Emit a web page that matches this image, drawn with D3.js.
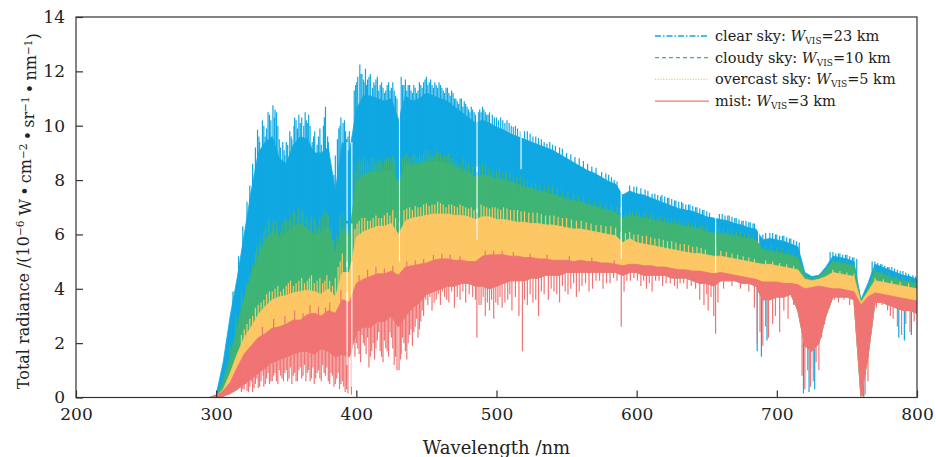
<!DOCTYPE html>
<html>
<head>
<meta charset="utf-8">
<script src="https://cdn.jsdelivr.net/npm/d3@7"></script>
<style>
  body { margin: 0; background: #fff; }
  svg text { font-family: "DejaVu Serif", "Liberation Serif", serif; fill: #222; }
</style>
</head>
<body>
<svg id="chart" width="936" height="457"></svg>
<script>
// wavelength grid (nm): flat start at 200, then every 5 nm from 295 to 800
const WAVELENGTHS = [200].concat(d3.range(295, 801, 5));
const X_TICKS = [200, 300, 400, 500, 600, 700, 800];
const Y_TICKS = [0, 2, 4, 6, 8, 10, 12, 14];

// solid body of each spectrum, upper edge (10^-6 W cm^-2 sr^-1 nm^-1)
const CLEAR_HI = [0, 0,
  0.1, 1.3, 3.0, 4.4, 6.0, 7.6, 9.0, 9.4, 9.6, 8.8,
  8.6, 9.3, 9.6, 9.5, 9.0, 9.0, 9.2, 7.6, 9.4, 9.0,
  10.6, 11.1, 11.1, 11.0, 10.9, 11.0, 10.2, 11.1, 10.9, 11.0,
  11.2, 11.1, 11.0, 10.9, 10.7, 10.5, 10.3, 10.1, 10.2, 10.1,
  9.95, 9.85, 9.7, 9.6, 9.5, 9.4, 9.3, 9.2, 9.1, 8.95,
  8.8, 8.65, 8.5, 8.35, 8.25, 8.1, 7.95, 7.85, 7.45, 7.6,
  7.5, 7.45, 7.35, 7.25, 7.15, 7.05, 6.95, 6.9, 6.85, 6.75,
  6.65, 6.6, 6.55, 6.5, 6.4, 6.35, 6.25, 6.2, 5.8, 5.85,
  5.8, 5.75, 5.65, 5.55, 4.6, 4.45, 4.5, 4.8, 5.2, 5.15,
  5.1, 5.0, 3.6, 4.2, 4.9, 4.8, 4.7, 4.6, 4.5, 4.45,
  4.35];

const CLOUDY_HI = [0, 0,
  0.05, 0.6, 1.5, 2.6, 3.7, 4.5, 5.2, 5.8, 6.1, 5.9,
  6.1, 6.3, 6.4, 6.2, 6.0, 6.1, 6.3, 5.3, 6.2, 6.0,
  7.9, 8.2, 8.3, 8.3, 8.3, 8.4, 7.9, 8.5, 8.55, 8.6,
  8.7, 8.7, 8.65, 8.6, 8.5, 8.4, 8.3, 8.1, 8.2, 8.15,
  8.05, 8.0, 7.95, 7.85, 7.75, 7.7, 7.6, 7.55, 7.5, 7.4,
  7.3, 7.25, 7.2, 7.1, 7.05, 6.95, 6.9, 6.8, 6.6, 6.7,
  6.65, 6.6, 6.55, 6.5, 6.45, 6.4, 6.35, 6.3, 6.25, 6.2,
  6.1, 6.05, 6.05, 6.0, 5.95, 5.9, 5.85, 5.8, 5.45, 5.4,
  5.35, 5.3, 5.25, 5.15, 4.5, 4.35, 4.45, 4.7, 5.0, 4.95,
  4.9, 4.85, 3.55, 4.0, 4.65, 4.55, 4.45, 4.35, 4.3, 4.25,
  4.2];

const OVERCAST_HI = [0, 0,
  0.05, 0.3, 0.9, 1.6, 2.2, 2.6, 3.05, 3.35, 3.6, 3.7,
  3.75, 3.85, 3.9, 3.95, 3.9, 3.8, 4.0, 3.7, 4.6, 4.6,
  5.9, 6.1, 6.2, 6.3, 6.3, 6.4, 6.0, 6.5, 6.6, 6.65,
  6.7, 6.75, 6.75, 6.75, 6.7, 6.7, 6.65, 6.55, 6.65, 6.65,
  6.55, 6.55, 6.5, 6.45, 6.45, 6.4, 6.4, 6.35, 6.35, 6.3,
  6.25, 6.2, 6.2, 6.15, 6.1, 6.05, 6.0, 5.95, 5.7, 5.85,
  5.7, 5.65, 5.6, 5.55, 5.5, 5.45, 5.4, 5.35, 5.3, 5.3,
  5.25, 5.2, 5.2, 5.15, 5.1, 5.05, 5.0, 4.95, 4.9, 4.9,
  4.85, 4.8, 4.75, 4.7, 4.35, 4.3, 4.35, 4.45, 4.6, 4.55,
  4.5, 4.45, 3.5, 3.9, 4.3, 4.25, 4.2, 4.15, 4.1, 4.05,
  4.0];

const MIST_HI = [0, 0,
  0.05, 0.25, 0.55, 1.1, 1.6, 1.9, 2.2, 2.35, 2.55, 2.6,
  2.7, 2.85, 2.85, 3.05, 3.1, 3.0, 3.2, 3.1, 3.6, 3.5,
  4.2, 4.35, 4.45, 4.55, 4.55, 4.65, 4.5, 4.8, 4.85, 4.9,
  4.95, 5.05, 5.1, 5.1, 5.05, 5.05, 5.0, 5.0, 5.2, 5.25,
  5.25, 5.25, 5.2, 5.2, 5.15, 5.15, 5.1, 5.1, 5.05, 5.05,
  5.05, 5.0, 5.05, 5.0, 5.0, 4.95, 4.95, 4.9, 4.85, 4.9,
  4.9, 4.85, 4.85, 4.8, 4.8, 4.75, 4.7, 4.7, 4.65, 4.65,
  4.6, 4.55, 4.6, 4.55, 4.5, 4.45, 4.4, 4.35, 4.25, 4.25,
  4.25, 4.2, 4.2, 4.15, 4.0, 4.05, 4.1, 4.05, 4.0, 4.0,
  3.95, 3.9, 3.4, 3.7, 3.85, 3.8, 3.75, 3.7, 3.65, 3.6,
  3.55];

// solid body, lower edge (shared by all four spectra)
const BODY_LO = [0, 0,
  0, 0.05, 0.15, 0.3, 0.5, 0.7, 0.9, 1.1, 1.3, 1.4,
  1.5, 1.6, 1.7, 1.7, 1.6, 1.8, 1.7, 1.5, 1.6, 1.5,
  2.4, 2.6, 2.6, 2.8, 2.8, 3.0, 2.6, 3.0, 3.3, 3.5,
  3.8, 3.9, 4.0, 4.1, 4.1, 4.2, 4.2, 4.1, 4.1, 4.0,
  4.1, 4.2, 4.3, 4.3, 4.3, 4.4, 4.4, 4.5, 4.5, 4.5,
  4.6, 4.6, 4.6, 4.6, 4.6, 4.6, 4.6, 4.6, 4.5, 4.6,
  4.6, 4.5, 4.5, 4.5, 4.5, 4.4, 4.4, 4.4, 4.3, 4.2,
  4.2, 4.1, 4.3, 4.3, 4.3, 4.2, 4.2, 4.1, 3.6, 3.6,
  3.7, 3.7, 3.8, 3.2, 1.9, 1.7, 2.0, 3.0, 3.7, 3.7,
  3.7, 3.6, 0.05, 1.5, 3.5, 3.5, 3.4, 3.3, 3.2, 3.2,
  3.1];

// narrow peaks / dips sticking out of the body: [nm, value]
const CLEAR_SPIKES = [
  [312, 3.9], [316, 5.2], [319, 6.3], [322, 7.2], [324, 7.8], [326, 8.6], [328, 9.2],
  [329.5, 9.85], [330.5, 9.6], [331, 9.4], [333, 10.2], [334, 10.0], [335, 9.6], [336, 9.9],
  [337, 10.5], [338, 10.4], [339, 10.2], [340.5, 10.75], [341.5, 10.3], [342, 10.6],
  [343, 10.5], [344, 10.0], [345, 9.5], [346, 9.2], [347.5, 9.4], [348.5, 9.1], [349, 8.9],
  [350, 9.4], [351, 9.3], [352.5, 9.8], [353.5, 9.6], [354, 9.5], [355.5, 10.0], [356, 10.3],
  [357, 10.2], [358, 9.9], [359, 10.4], [360, 10.1], [361, 10.3], [362.5, 10.0], [363.5, 10.5],
  [364.3, 10.2], [365, 10.1], [366, 10.4], [367, 10.0], [368.5, 9.4], [369.5, 9.6],
  [370.3, 9.8], [371, 9.0], [372, 9.3], [373, 9.6], [374, 9.9], [375, 9.3], [376.5, 10.0],
  [377.2, 10.3], [378, 10.7], [379.5, 9.6], [380, 9.4], [381, 8.0], [382, 8.4], [383, 7.6],
  [384, 8.2], [385, 8.9], [386.5, 9.5], [387.5, 9.9], [388.3, 10.0], [389, 10.3],
  [390.5, 10.1], [391.5, 10.2], [392.3, 9.8], [393, 9.5], [394, 9.6], [395, 9.8],
  [398.5, 11.3], [399.5, 11.5], [400.3, 11.6], [401, 11.8], [402.5, 12.25], [403.3, 11.9],
  [404, 11.9], [405, 11.7], [405.5, 11.6], [406.5, 12.1], [407.3, 11.5], [408, 11.7],
  [409, 11.8], [410, 11.9], [411.5, 11.4], [412.5, 11.6], [413.3, 11.5], [414, 11.7],
  [415, 11.8], [416, 11.3], [417, 11.5], [418, 11.6], [419, 11.4], [420, 11.2], [421, 11.3],
  [422, 11.5], [423, 11.6], [424, 11.3], [425, 11.4], [426, 11.6], [427, 11.3], [428, 11.1],
  [429, 11.0], [432, 11.8], [433, 11.5], [434, 11.5], [435, 11.7], [436, 11.3], [437, 11.5],
  [438, 11.5], [439, 11.3], [440, 11.2], [441, 11.5], [442, 11.4], [443, 11.2], [444, 11.3],
  [445, 11.6], [446, 11.5], [447, 11.4], [448, 11.6], [449, 11.7], [450, 11.8], [451, 11.5],
  [452, 11.6], [453, 11.7], [454, 11.5], [455, 11.4], [456, 11.6], [457, 11.5], [458, 11.4],
  [459, 11.6], [460, 11.5], [461, 11.4], [462, 11.3], [463, 11.2], [464, 11.4], [465, 11.4],
  [466, 11.2], [467, 11.1], [468, 11.3], [469, 11.2], [470, 11.0], [471, 11.0], [472, 10.9],
  [473, 10.8], [474, 11.0], [475, 11.0], [476, 10.7], [477, 10.9], [478, 10.8], [479, 10.7],
  [480, 10.6], [481, 10.5], [482, 10.7], [483, 10.6], [484, 10.5], [485, 10.4], [487, 10.5],
  [488, 10.6], [489, 10.5], [490, 10.7], [491, 10.6], [492, 10.5], [493, 10.4], [494, 10.4],
  [495, 10.5], [497, 10.4], [498.5, 10.3], [500, 10.3], [501.5, 10.2], [503, 10.3],
  [504.5, 10.2], [506, 10.1], [507.5, 10.2], [509, 10.1], [510.5, 10.0], [512, 9.95],
  [513.5, 10.0], [515, 9.9], [517, 9.8], [520, 9.8], [522, 9.8], [524, 9.7], [526, 9.6],
  [528, 9.6], [530, 9.55], [532, 9.5], [534, 9.4], [536, 9.35], [538, 9.4], [540, 9.3],
  [542, 9.25], [545, 9.2], [547, 9.15], [550, 9.0], [553, 8.95], [556, 8.85], [559, 8.8],
  [562, 8.7], [565, 8.6], [568, 8.5], [571, 8.45], [575, 8.3], [578, 8.25], [580, 8.2],
  [582, 8.1], [584, 8.0], [586, 7.95], [595, 7.8], [598, 7.75], [600, 7.75], [603, 7.7],
  [606, 7.65], [608, 7.6], [611, 7.5], [613, 7.5], [615, 7.45], [617, 7.4], [618, 7.45],
  [620, 7.4], [622, 7.35], [623, 7.35], [625, 7.3], [627, 7.25], [628, 7.25], [630, 7.2],
  [632, 7.2], [633, 7.15], [635, 7.1], [637, 7.1], [638, 7.1], [640, 7.05], [642, 7.0],
  [643, 7.0], [645, 6.95], [647, 6.9], [648, 6.9], [650, 6.85], [652, 6.8], [659, 6.75],
  [661, 6.75], [663, 6.7], [665, 6.7], [666, 6.7], [668, 6.65], [670, 6.6], [671, 6.6],
  [673, 6.55], [675, 6.5], [676, 6.5], [678, 6.5], [680, 6.45], [681, 6.45], [683, 6.4],
  [684, 6.4], [690, 6.0], [692, 6.05], [695, 6.05], [697, 6.05], [699, 6.0], [700, 6.0],
  [702, 5.95], [704, 5.95], [705, 5.95], [707, 5.9], [709, 5.85], [710, 5.85], [712, 5.8],
  [714, 5.75], [716, 5.7], [738, 5.35], [740, 5.35], [742, 5.3], [744, 5.3], [745, 5.3],
  [747, 5.25], [749, 5.25], [750, 5.25], [752, 5.2], [754, 5.15], [755, 5.15], [757, 5.1],
  [768, 5.0], [770, 5.0], [772, 4.95], [774, 4.9], [775, 4.9], [777, 4.85], [779, 4.8],
  [780, 4.8], [782, 4.8], [784, 4.75], [786, 4.7], [788, 4.65], [790, 4.65], [792, 4.6],
  [794, 4.55], [797, 4.5], [799, 4.45],
  [686, 1.7], [689, 1.5], [693, 2.1], [719, 0.15], [723, 0.2], [727, 0.3], [762, 0.02],
  [787, 2.2], [791, 2.1], [796, 2.3],
];

const CLOUDY_SPIKES = [
  [310, 1.9], [314, 3.0], [318, 3.9], [322, 4.2], [324, 4.6], [326, 4.9], [328, 5.3],
  [329, 5.6], [331, 5.7], [332, 5.9], [334, 6.1], [335, 6.3], [337, 6.5], [338, 6.6],
  [340, 6.4], [341, 6.5], [343, 6.5], [344, 6.2], [346, 6.1], [347, 6.4], [349, 6.6],
  [350, 6.5], [352, 6.5], [353, 6.7], [355, 6.9], [356, 6.8], [358, 6.7], [359, 7.0],
  [361, 6.9], [362, 6.8], [364, 6.7], [365, 6.6], [367, 6.5], [368, 6.7], [370, 6.6],
  [371, 6.4], [373, 6.3], [374, 6.6], [376, 6.7], [377, 6.9], [379, 6.8], [380, 6.7],
  [382, 6.2], [384, 5.8], [386, 6.0], [388, 6.6], [389, 6.7], [391, 6.8], [392, 6.5],
  [399, 8.3], [400.5, 8.6], [402, 8.8], [403.5, 8.7], [405, 8.9], [406.5, 8.8], [408, 8.7],
  [409.5, 8.6], [411, 8.8], [412.5, 8.8], [414, 8.6], [415.5, 8.7], [417, 8.8], [418.5, 8.6],
  [420, 8.7], [421.5, 8.8], [423, 8.8], [424.5, 8.7], [426, 8.9], [427.5, 8.7], [433, 8.8],
  [434.5, 8.9], [436, 9.0], [437.5, 8.8], [439, 8.8], [440.5, 9.0], [442, 8.9], [443.5, 8.8],
  [445, 9.0], [446.5, 8.9], [448, 9.0], [449.5, 9.1], [451, 9.1], [452.5, 9.0], [454, 8.9],
  [455.5, 8.9], [457, 9.1], [458.5, 9.0], [460, 9.0], [461.5, 8.8], [463, 8.9], [464.5, 8.9],
  [466, 9.0], [467.5, 8.8], [469, 8.8], [470.5, 8.7], [472, 8.7], [474, 8.6], [476, 8.8],
  [478, 8.65], [480, 8.6], [483, 8.5], [488, 8.5], [490, 8.6], [492, 8.55], [494, 8.5],
  [496, 8.4], [498, 8.4], [500, 8.35], [502, 8.4], [504.5, 8.3], [507, 8.3], [509.5, 8.25],
  [512, 8.2], [514.5, 8.1], [517, 8.15], [519.5, 8.05], [522, 8.0], [525, 7.95], [528, 7.9],
  [531, 7.85], [534, 7.8], [537, 7.8], [540, 7.75], [543.5, 7.7], [547, 7.6], [551, 7.55],
  [555, 7.5], [558.5, 7.45], [562, 7.4], [566, 7.35], [570, 7.25], [574, 7.2], [578, 7.15],
  [582, 7.1], [586, 7.05], [592, 6.85], [595, 6.9], [597, 6.85], [600, 6.85], [602, 6.8],
  [605, 6.8], [607, 6.75], [610, 6.75], [612, 6.7], [615, 6.7], [617, 6.65], [620, 6.6],
  [622, 6.6], [625, 6.55], [627, 6.55], [630, 6.5], [632, 6.5], [635, 6.45], [637, 6.45],
  [640, 6.4], [642, 6.4], [645, 6.35], [647, 6.3], [650, 6.3], [659, 6.25], [662, 6.2],
  [665, 6.2], [668, 6.15], [671, 6.1], [674, 6.1], [677, 6.05], [680, 6.0], [683, 6.0],
  [692, 5.6], [696, 5.6], [700, 5.55], [704, 5.5], [708, 5.45], [712, 5.4], [740, 5.1],
  [745, 5.1], [750, 5.05], [755, 5.0], [770, 4.8], [775, 4.7], [780, 4.6], [785, 4.5],
  [790, 4.45], [795, 4.4],
];

const OVERCAST_SPIKES = [
  [318, 2.3], [320, 2.5], [322, 2.7], [324, 2.9], [326, 3.0], [328, 3.3], [330, 3.4],
  [332, 3.5], [334, 3.6], [336, 3.8], [338, 3.9], [340, 3.9], [342, 4.0], [344, 4.1],
  [346, 3.9], [348, 4.0], [350, 4.1], [351.5, 4.2], [353, 4.3], [355, 4.1], [357, 4.2],
  [359, 4.3], [361, 4.4], [363, 4.2], [365, 4.3], [366.5, 4.4], [368, 4.5], [370, 4.2],
  [372, 4.3], [374, 4.4], [376, 4.2], [377.5, 4.3], [379, 4.5], [381, 4.3], [383, 4.1],
  [385, 4.4], [387, 4.8], [388.5, 5.0], [390, 5.3], [399, 6.2], [400.5, 6.4], [402, 6.5],
  [404, 6.6], [406, 6.6], [408, 6.5], [410, 6.5], [412, 6.6], [414, 6.7], [416, 6.6],
  [418, 6.6], [420, 6.7], [422, 6.8], [424, 6.7], [426, 6.9], [428, 6.6], [434, 6.9],
  [436, 6.95], [438, 7.0], [440, 6.9], [442, 7.05], [444, 7.0], [446, 7.0], [448, 7.1],
  [450, 7.15], [452, 7.05], [454, 7.1], [456, 7.1], [458, 7.2], [460, 7.15], [462, 7.1],
  [464, 7.0], [466, 7.1], [468, 7.1], [470, 7.05], [472, 7.0], [474, 7.1], [476, 7.05],
  [478, 7.0], [480, 6.95], [482, 7.0], [484, 6.9], [489, 7.1], [491, 7.05], [493, 7.0],
  [495, 6.95], [497, 7.0], [499, 7.0], [501, 6.95], [503, 6.9], [505, 7.0], [507.5, 6.95],
  [510, 6.9], [512.5, 6.9], [515, 6.9], [517.5, 6.85], [520, 6.85], [523, 6.8], [526, 6.8],
  [529, 6.8], [532, 6.75], [535, 6.7], [538, 6.7], [541, 6.7], [544, 6.65], [547, 6.6],
  [550, 6.6], [553.5, 6.55], [557, 6.5], [560.5, 6.5], [564, 6.45], [567.5, 6.4],
  [571, 6.35], [574.5, 6.35], [578, 6.3], [581.5, 6.3], [585, 6.25], [592, 6.05],
  [595, 6.1], [598, 6.0], [601, 6.0], [604, 5.95], [607, 5.95], [610, 5.9], [613, 5.85],
  [616, 5.85], [619, 5.8], [622, 5.75], [625, 5.75], [628, 5.7], [631, 5.65], [634, 5.65],
  [637, 5.6], [640, 5.55], [643, 5.55], [646, 5.5], [649, 5.45], [660, 5.4], [664, 5.35],
  [668, 5.3], [672, 5.25], [676, 5.2], [680, 5.15], [684, 5.1], [692, 5.05], [697, 5.0],
  [702, 4.95], [707, 4.9], [712, 4.85], [740, 4.7], [745, 4.65], [750, 4.6], [755, 4.55],
  [770, 4.4], [776, 4.35], [782, 4.3], [788, 4.25], [794, 4.2],
];

const MIST_SPIKES = [
  [318, 0.2], [319, 0.3], [320, 0.3], [321, 0.5], [322, 0.25], [323, 0.2], [324, 0.4],
  [325, 0.6], [326, 0.2], [327, 0.35], [328, 0.5], [329, 0.7], [330, 0.35], [331, 0.4],
  [332, 0.6], [333.5, 0.8], [334, 0.4], [335, 0.5], [336, 0.7], [337, 0.9], [338, 0.5],
  [339, 0.6], [340, 0.6], [341, 0.8], [342, 0.9], [343, 0.6], [344, 0.5], [345, 1.0],
  [346, 0.8], [347, 0.7], [348, 0.6], [349, 0.9], [350, 1.0], [351, 0.6], [352, 0.7],
  [353, 1.1], [354, 0.5], [355, 0.8], [356, 0.9], [357, 0.6], [358, 0.6], [359, 1.0],
  [360, 1.1], [361, 0.7], [362, 0.8], [363, 1.2], [364, 0.6], [365, 0.9], [366, 1.0],
  [367, 0.6], [368, 0.7], [369, 1.1], [370, 0.5], [371, 0.7], [372, 0.9], [373, 1.0],
  [374, 0.7], [375, 0.6], [376, 1.2], [377, 0.9], [378, 0.8], [379, 1.1], [380, 0.6],
  [381, 0.5], [382, 0.9], [383, 0.8], [384, 0.4], [385, 0.5], [386, 0.7], [387, 0.9],
  [388, 0.3], [389, 0.5], [390, 0.6], [391, 0.4], [392, 0.2], [393, 0.3], [394, 0.15],
  [396.5, 0.1], [399, 1.5], [400, 2.0], [401, 1.8], [402, 1.6], [403, 1.3], [404, 2.3],
  [405, 2.0], [406, 1.9], [407, 1.6], [408, 2.2], [409, 1.1], [410, 1.5], [411, 1.7],
  [412, 2.0], [413, 1.4], [414, 1.8], [415, 2.1], [416, 2.4], [417, 1.7], [418, 1.5],
  [419, 1.3], [420, 2.1], [421, 1.8], [422, 1.7], [423, 1.5], [424, 2.4], [425, 2.2],
  [426, 1.8], [427, 1.2], [428, 1.5], [429, 1.0], [430.5, 1.0], [431.5, 1.4], [432, 1.6],
  [433, 2.2], [434, 2.0], [435, 1.7], [436, 1.4], [437, 2.0], [438, 2.3], [439, 2.5],
  [440, 1.9], [441, 2.4], [442, 2.6], [443, 2.9], [444, 2.2], [445, 2.5], [446, 2.8],
  [447, 3.2], [448, 3.0], [449.5, 3.6], [451, 3.4], [452.5, 3.7], [454, 3.2], [455.5, 3.5],
  [457, 3.6], [458.5, 3.8], [460, 3.4], [461.5, 3.9], [463, 3.7], [464.5, 3.6], [466, 3.5],
  [468, 3.9], [470, 3.3], [472, 3.7], [474, 3.6], [476, 3.9], [478, 3.5], [480.5, 3.8],
  [483, 3.7], [485, 3.6], [486, 2.2], [487.5, 3.4], [489, 3.4], [490.5, 3.7], [492, 3.0],
  [493.5, 3.5], [495, 3.2], [496.5, 3.6], [498, 2.9], [499.5, 3.5], [501, 3.4], [502.5, 3.7],
  [504, 3.3], [506, 3.5], [508, 3.6], [509.5, 3.8], [511, 3.2], [513.5, 3.7], [516, 3.0],
  [518.5, 1.7], [520, 3.6], [522, 3.4], [524, 3.8], [526, 3.5], [528, 3.6], [530, 3.0],
  [532, 3.9], [534, 3.8], [537, 3.6], [539, 4.0], [541, 3.9], [543, 3.8], [545, 3.5],
  [547, 4.1], [549, 3.9], [551, 3.8], [553, 4.0], [555, 4.2], [557, 3.7], [559, 3.9],
  [561, 4.1], [563.5, 4.2], [566, 3.9], [568.5, 4.0], [571, 4.3], [573.5, 4.3], [576, 4.0],
  [578.5, 4.2], [581, 4.2], [583.5, 4.4], [586, 4.3], [589, 2.6], [591, 3.9], [593, 4.3],
  [595.5, 4.3], [598, 4.4], [600.5, 4.3], [603, 4.1], [605, 4.3], [607, 4.0], [609, 4.2],
  [611, 3.9], [613.5, 4.3], [616, 4.3], [618.5, 4.1], [621, 4.2], [624, 4.2], [627, 4.1],
  [629, 4.0], [631, 4.2], [633.5, 4.2], [636, 4.0], [639, 4.1], [642, 4.0], [645, 3.6],
  [648, 3.4], [650, 3.8], [651, 3.2], [653, 3.7], [655, 3.0], [656.3, 2.35], [658, 3.5],
  [662, 4.0], [668, 4.1], [674, 4.0], [680, 3.9], [684, 3.3], [686, 2.0], [688, 2.4],
  [690, 1.9], [692, 2.6], [694, 2.2], [697, 2.7], [699, 3.0], [702, 2.4], [705, 3.2],
  [708, 2.9], [712, 3.4], [716, 3.1], [718, 0.8], [720, 0.3], [722, 1.0], [724, 0.4],
  [726, 0.6], [728, 1.3], [730, 1.0], [732, 2.2], [734, 2.7], [737, 3.3], [741, 3.6],
  [744, 3.5], [748, 3.6], [752, 3.4], [756, 3.3], [761, 0.05], [763, 0.1], [765, 0.6],
  [771, 3.3], [775, 3.4], [779, 3.2], [781, 3.0], [783, 2.9], [786, 2.6], [789, 2.3],
  [792, 2.7], [795, 2.4], [798, 2.8],
  [333, 2.6], [341, 2.9], [349, 3.0], [356, 3.2], [362, 3.1], [367, 3.4], [373, 3.35],
  [378, 3.3], [381, 3.5], [389, 3.95], [402, 4.5], [408, 4.7], [414, 4.8], [420, 4.75],
  [426, 4.85], [436, 5.0], [442, 5.05], [448, 5.1], [455, 5.25], [461, 5.3], [467, 5.25],
  [474, 5.2], [492, 5.4], [498, 5.4], [504, 5.4], [512, 5.35], [524, 5.3], [536, 5.25],
  [552, 5.2], [568, 5.15], [584, 5.05],
];

// strong absorption lines cutting down from the top of each body: [nm, depth]
const CLEAR_NOTCHES = [[393.4, 6.5], [396.8, 5.0], [430.8, 7.8], [486.1, 8.3], [517.5, 8.4], [589, 6.8], [656.3, 5.5], [687, 5.4]];
const CLOUDY_NOTCHES = [[393.4, 4.8], [396.8, 4.5], [430.8, 6.0], [486.1, 6.8], [589, 5.8], [656.3, 5.2]];
const OVERCAST_NOTCHES = [[393.4, 3.6], [396.8, 3.4], [430.8, 5.0], [486.1, 5.8], [589, 5.1], [656.3, 4.6]];
const MIST_NOTCHES = [[393.4, 1.2], [396.8, 0.4]];

// series, drawn back to front
const SERIES = [
  { name: "clear sky: ", vis: "=23 km", hi: CLEAR_HI, spikes: CLEAR_SPIKES, notches: CLEAR_NOTCHES, color: "#10a8e2", dash: "6,2,1.5,2" },
  { name: "cloudy sky: ", vis: "=10 km", hi: CLOUDY_HI, spikes: CLOUDY_SPIKES, notches: CLOUDY_NOTCHES, color: "#3fb475", dash: "4,3" },
  { name: "overcast sky: ", vis: "=5 km", hi: OVERCAST_HI, spikes: OVERCAST_SPIKES, notches: OVERCAST_NOTCHES, color: "#fcc764", dash: "1.2,1.5" },
  { name: "mist: ", vis: "=3 km", hi: MIST_HI, spikes: MIST_SPIKES, notches: MIST_NOTCHES, color: "#f07474", dash: null },
];

const config = {
  margin: { top: 17, right: 19, bottom: 59.5, left: 76 },
};
config.width = 936 - config.margin.left - config.margin.right;
config.height = 457 - config.margin.top - config.margin.bottom;

const svg = d3
  .select("#chart")
  .append("g")
  .attr("transform", `translate(${config.margin.left}, ${config.margin.top})`);

const xScale = d3.scaleLinear().domain([200, 800]).range([0, config.width]);
const yScale = d3.scaleLinear().domain([0, 14]).range([config.height, 0]);

// nearest grid point of a wavelength
const gridIndex = (wl) => Math.max(0, Math.round((wl - 295) / 5) + 1);

// clip the spectra to the plot area
svg
  .append("clipPath")
  .attr("id", "plot-clip")
  .append("rect")
  .attr("width", config.width)
  .attr("height", config.height);

const area = d3
  .area()
  .x((d) => xScale(d.wl))
  .y0((d) => yScale(d.lo))
  .y1((d) => yScale(d.hi));

const plot = svg.append("g").attr("clip-path", "url(#plot-clip)");
SERIES.forEach((s) => {
  const g = plot.append("g");

  // solid body between lower and upper edge
  const rows = WAVELENGTHS.map((wl, i) => ({ wl, hi: s.hi[i], lo: BODY_LO[i] }));
  g.append("path")
    .datum(rows)
    .attr("fill", s.color)
    .attr("stroke", s.color)
    .attr("stroke-width", 0.8)
    .attr("d", area);

  // spikes start inside the body and run out to their value
  g.selectAll(".spike")
    .data(s.spikes)
    .join("line")
    .attr("class", "spike")
    .attr("x1", (d) => xScale(d[0]))
    .attr("x2", (d) => xScale(d[0]))
    .attr("y1", (d) => {
      const i = gridIndex(d[0]);
      return yScale((s.hi[i] + BODY_LO[i]) / 2);
    })
    .attr("y2", (d) => yScale(d[1]))
    .attr("stroke", s.color)
    .attr("stroke-width", 1.2);

  // absorption lines cut from the top of the body
  g.selectAll(".notch")
    .data(s.notches)
    .join("line")
    .attr("class", "notch")
    .attr("x1", (d) => xScale(d[0]))
    .attr("x2", (d) => xScale(d[0]))
    .attr("y1", (d) => yScale(s.hi[gridIndex(d[0])] + 0.4))
    .attr("y2", (d) => yScale(d[1]))
    .attr("stroke", "#fff")
    .attr("stroke-width", 1.1);
});

// axes with inward ticks
const xAxis = svg
  .append("g")
  .attr("class", "axis axis-x")
  .attr("transform", `translate(0, ${config.height})`)
  .call(d3.axisBottom(xScale).tickValues(X_TICKS).tickSize(-7).tickPadding(10));
const yAxis = svg
  .append("g")
  .attr("class", "axis axis-y")
  .call(d3.axisLeft(yScale).tickValues(Y_TICKS).tickSize(-7).tickPadding(11));

[xAxis, yAxis].forEach((ax) => {
  ax.select(".domain").remove();
  ax.selectAll(".tick line").attr("stroke", "#333").attr("stroke-width", 1.2);
  ax.selectAll(".tick text")
    .attr("fill", "#222")
    .style("font-family", '"DejaVu Serif", serif')
    .style("font-size", "17px");
});

// plot frame
svg
  .append("rect")
  .attr("width", config.width)
  .attr("height", config.height)
  .attr("fill", "none")
  .attr("stroke", "#333")
  .attr("stroke-width", 1.2);

// x-axis label
svg
  .append("text")
  .attr("text-anchor", "middle")
  .attr("x", config.width / 2)
  .attr("y", config.height + 56)
  .style("font-size", "18px")
  .text("Wavelength /nm");

// y-axis label with superscripts
const yLabel = svg
  .append("text")
  .attr("text-anchor", "middle")
  .attr("transform", `translate(${-config.margin.left + 29}, ${config.height / 2 + 4}) rotate(-90)`)
  .style("font-size", "16px");
const labelParts = [
  ["Total radiance /(10", false],
  ["\u22126", true],
  [" W\u2009\u2022\u2009cm", false],
  ["\u22122", true],
  ["\u2009\u2022\u2009sr", false],
  ["\u22121", true],
  ["\u2009\u2022\u2009nm", false],
  ["\u22121", true],
  [")", false],
];
labelParts.forEach(([t, sup], i) => {
  const prevSup = i > 0 && labelParts[i - 1][1];
  yLabel
    .append("tspan")
    .attr("dy", sup ? "-0.45em" : prevSup ? "0.45em" : null)
    .style("font-size", sup ? "10.5px" : null)
    .text(t);
});

// legend
const legend = svg.append("g").attr("transform", `translate(${655 - config.margin.left}, 0)`);
SERIES.forEach((s, i) => {
  const yRow = 19 + i * 21.7;
  legend
    .append("line")
    .attr("x1", 0)
    .attr("x2", 54)
    .attr("y1", yRow)
    .attr("y2", yRow)
    .attr("stroke", s.color)
    .attr("stroke-width", 1.3)
    .attr("stroke-dasharray", s.dash);
  const label = legend
    .append("text")
    .attr("x", 60)
    .attr("y", yRow + 5)
    .style("font-size", "14.5px");
  label.append("tspan").text(s.name);
  label.append("tspan").style("font-style", "italic").text("W");
  label.append("tspan").attr("dy", 3).style("font-size", "9px").text("VIS");
  label.append("tspan").attr("dy", -3).text(s.vis);
});
</script>
</body>
</html>
